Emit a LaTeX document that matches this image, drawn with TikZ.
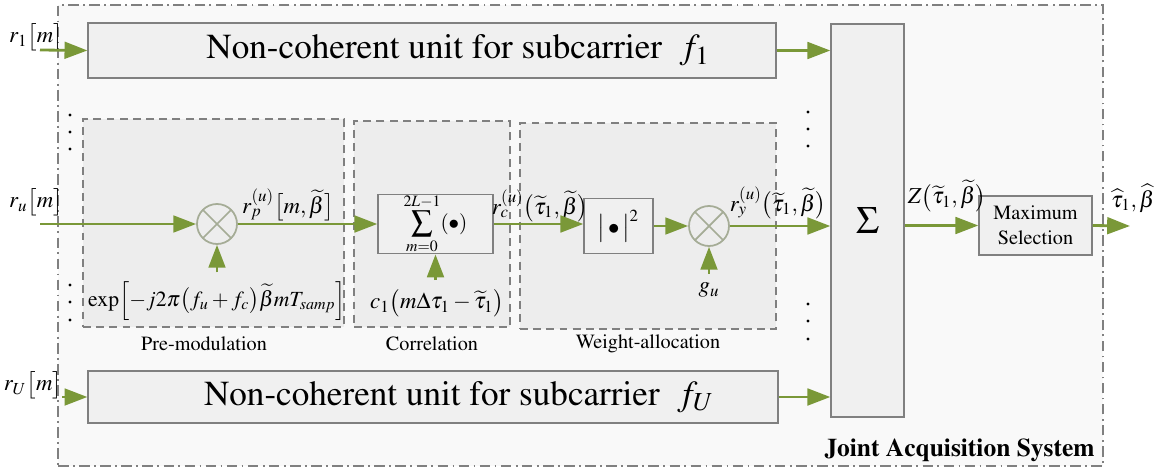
\documentclass[tikz,border=0pt]{standalone}
\usepackage{amsmath}
\usepackage[T1]{fontenc}
\usepackage{mathptmx}
\usetikzlibrary{arrows.meta}
\definecolor{sigcol}{RGB}{122,152,56}
\definecolor{mulcol}{RGB}{165,172,150}

\begin{document}
\begin{tikzpicture}[x=0.02cm,y=-0.02cm,
  frame/.style={draw=gray,line width=0.8pt,dash pattern=on 6pt off 2.5pt on 1pt off 2.5pt,fill=gray!5,inner sep=0pt},
  blk/.style={draw=gray,line width=0.8pt,fill=gray!12,inner sep=0pt,align=center},
  grp/.style={draw=gray,line width=0.8pt,dash pattern=on 4.5pt off 3pt,fill=gray!14,inner sep=0pt},
  mul/.style={circle,draw=mulcol,line width=1pt,minimum size=0.8cm,inner sep=0pt,
    path picture={\draw[mulcol,line width=1pt]
      (path picture bounding box.north west) -- (path picture bounding box.south east)
      (path picture bounding box.north east) -- (path picture bounding box.south west);}},
  sig/.style={draw=sigcol,line width=1.6pt,-{Triangle[length=13pt,width=9.5pt]}},
  lab/.style={font=\fontsize{11.5}{13}\selectfont,inner sep=0pt},
  ml/.style={font=\fontsize{13}{15}\selectfont,inner sep=0pt},
  big/.style={font=\fontsize{20}{23}\selectfont}]
\useasboundingbox (0,0) rectangle (1157,470);

% outer frame
\node[frame,minimum width=20.9cm,minimum height=9.22cm] (sys) at (580.5,235.5) {};
\node[font=\fontsize{14.5}{16}\selectfont\bfseries,anchor=east,inner sep=0pt] (sysname) at (1095,450) {Joint Acquisition System};

% units for the other subcarriers
\node[blk,big,minimum width=13.76cm,minimum height=1.1cm] (U1) at (432,50.5) {\hspace*{1.04cm}Non-coherent unit for subcarrier\ \ $f_{1}$};
\node[blk,big,minimum width=13.8cm,minimum height=1.04cm] (UU) at (433,397) {\hspace*{1.04cm}Non-coherent unit for subcarrier\ \ $f_{U}$};
\node[blk,minimum width=1.46cm,minimum height=7.86cm,font=\fontsize{22}{24}\selectfont] (sum) at (867.5,220.5) {$\Sigma$};
\node[blk,lab,minimum width=2.26cm,minimum height=1.18cm] (maxs) at (1035.5,225.5) {Maximum\\[1pt]Selection};

% unit for subcarrier u
\node[grp,minimum width=5.22cm,minimum height=4.16cm] (pm) at (213.5,223) {};
\node[grp,minimum width=3.12cm,minimum height=4.12cm] (cr) at (432,224) {};
\node[grp,minimum width=5.12cm,minimum height=4.12cm] (wa) at (648,226) {};
\node[lab] (pmname) at (204,344) {Pre-modulation};
\node[lab] (crname) at (432,344) {Correlation};
\node[lab] (waname) at (648,344) {Weight-allocation};

\node[mul] (mx1) at (217,224) {};
\node[blk,minimum width=2.3cm,minimum height=1.1cm,font=\fontsize{12}{14}\selectfont] (corr) at (435.5,224) {$\displaystyle\sum_{m=0}^{2L-1}\!\left(\bullet\right)$};
\node[blk,minimum width=1.38cm,minimum height=1.1cm,font=\fontsize{13}{15}\selectfont] (abs) at (618.5,226) {$\bigl|\,\bullet\,\bigr|^{2}$};
\node[mul] (mx2) at (709,226) {};

% labels
\node[ml] (r1) at (36,37) {$r_{1}\bigl[m\bigr]$};
\node[ml] (ru) at (36,202) {$r_{u}\bigl[m\bigr]$};
\node[ml] (rU) at (33,385) {$r_{U}\bigl[m\bigr]$};
\node[ml] (rp) at (288,205) {$r_{p}^{(u)}\bigl[m,\widetilde{\beta}\bigr]$};
\node[ml] (rc) at (540,206) {$r_{c}^{(u)}\bigl(\widetilde{\tau}_{1},\widetilde{\beta}\bigr)$};
\node[ml] (ry) at (778,203) {$r_{y}^{(u)}\bigl(\widetilde{\tau}_{1},\widetilde{\beta}\bigr)$};
\node[ml] (zz) at (947,196) {$Z\bigl(\widetilde{\tau}_{1},\widetilde{\beta}\bigr)$};
\node[ml] (est) at (1133,198) {$\widehat{\tau}_{1},\widehat{\beta}$};
\node[ml,font=\fontsize{12.3}{14}\selectfont] (exp) at (217,301) {$\exp\Bigl[-j2\pi\bigl(f_{u}+f_{c}\bigr)\widetilde{\beta}mT_{samp}\Bigr]$};
\node[ml] (code) at (437,303) {$c_{1}\bigl(m\Delta\tau_{1}-\widetilde{\tau}_{1}\bigr)$};
\node[ml] (gu) at (709,290) {$g_{u}$};

% dots
\foreach \y in {115,132,149,285,302,320} \fill (70,\y) circle (0.9pt);
\foreach \y in {112,129,146,304,321,339} \fill (808,\y) circle (0.9pt);

% signal flow
\coordinate (in1) at (40,50);
\coordinate (inu) at (40,224);
\coordinate (inU) at (62,397);
\coordinate (out) at (1130,226);
\draw[sig] (in1) -- (U1.west);
\draw[sig] (U1.east) -- (U1.east -| sum.west);
\draw[sig] (inU) -- (UU.west);
\draw[sig] (UU.east) -- (UU.east -| sum.west);
\draw[sig] (inu) -- (mx1.west);
\draw[sig] (mx1.east) -- (corr.west);
\draw[sig] (corr.east) -- (corr.east -| abs.west);
\draw[sig] (abs.east |- mx2.west) -- (mx2.west);
\draw[sig] (mx2.east) -- (mx2.east -| sum.west);
\draw[sig] (sum.east |- maxs.west) -- (maxs.west);
\draw[sig] (maxs.east) -- (out);
\draw[sig] ([yshift=5pt]exp.north -| mx1.south) -- (mx1.south);
\draw[sig] ([yshift=5pt]code.north -| corr.south) -- (corr.south);
\draw[sig] ([yshift=5pt]gu.north) -- (mx2.south);
\end{tikzpicture}
\end{document}
